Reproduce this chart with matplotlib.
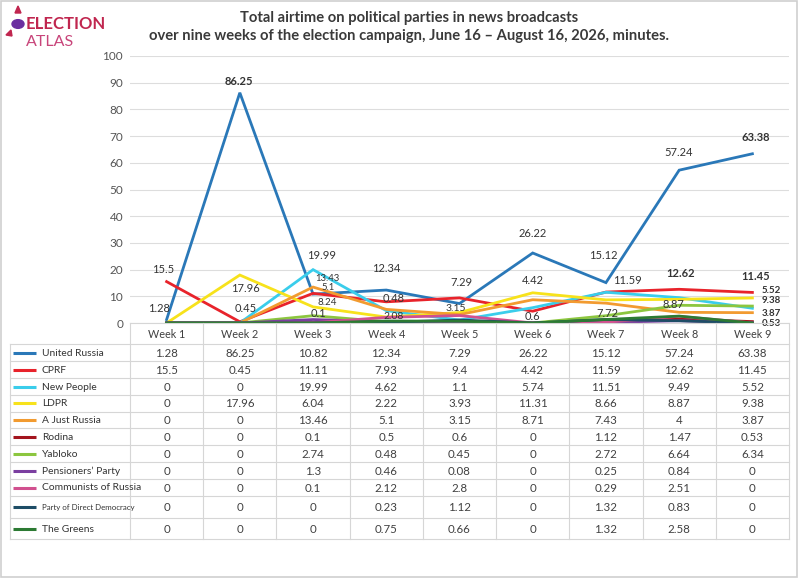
import matplotlib.pyplot as plt
from matplotlib.patches import Circle, Polygon, Rectangle

plt.rcParams["font.family"] = ["Lato", "DejaVu Sans"]

weeks = ["Week 1", "Week 2", "Week 3", "Week 4", "Week 5", "Week 6", "Week 7", "Week 8", "Week 9"]

parties = [
    "United Russia", "CPRF", "New People", "LDPR", "A Just Russia", "Rodina",
    "Yabloko", "Pensioners\u2019 Party", "Communists of Russia",
    "Party of Direct Democracy", "The Greens",
]

united_russia = [1.28, 86.25, 10.82, 12.34, 7.29, 26.22, 15.12, 57.24, 63.38]
cprf = [15.5, 0.45, 11.11, 7.93, 9.4, 4.42, 11.59, 12.62, 11.45]
new_people = [0, 0, 19.99, 4.62, 1.1, 5.74, 11.51, 9.49, 5.52]
ldpr = [0, 17.96, 6.04, 2.22, 3.93, 11.31, 8.66, 8.87, 9.38]
just_russia = [0, 0, 13.46, 5.1, 3.15, 8.71, 7.43, 4, 3.87]
rodina = [0, 0, 0.1, 0.5, 0.6, 0, 1.12, 1.47, 0.53]
yabloko = [0, 0, 2.74, 0.48, 0.45, 0, 2.72, 6.64, 6.34]
pensioners = [0, 0, 1.3, 0.46, 0.08, 0, 0.25, 0.84, 0]
communists = [0, 0, 0.1, 2.12, 2.8, 0, 0.29, 2.51, 0]
direct_democracy = [0, 0, 0, 0.23, 1.12, 0, 1.32, 0.83, 0]
greens = [0, 0, 0, 0.75, 0.66, 0, 1.32, 2.58, 0]

series = [united_russia, cprf, new_people, ldpr, just_russia, rodina,
          yabloko, pensioners, communists, direct_democracy, greens]

colors = ["#2A78B8", "#E8232B", "#3ACDEB", "#F7E21B", "#F29B30", "#A3141E",
          "#8CC63F", "#7B3FA0", "#D1508F", "#1E4D66", "#2C7A33"]

# labels as they appear on the original chart: (text, week index, y, bold, size)
point_labels = [
    ("1.28", -0.1, 5.6, False, 8), ("15.5", -0.05, 20.1, False, 8),
    ("86.25", 0.99, 90.5, True, 8), ("17.96", 1.08, 13.0, False, 8),
    ("0.45", 1.08, 5.6, False, 8), ("19.99", 2.12, 25.4, False, 8),
    ("13.43", 2.2, 16.8, False, 6.8), ("5.1", 2.2, 13.2, False, 6.8),
    ("8.24", 2.2, 7.5, False, 7), ("0.1", 2.08, 3.4, False, 8),
    ("12.34", 3.0, 20.5, False, 8), ("0.48", 3.1, 9.3, False, 8),
    ("2.08", 3.1, 2.6, False, 7.5), ("7.29", 4.03, 15.3, False, 8),
    ("3.15", 3.95, 5.6, False, 7.5), ("26.22", 5.0, 33.6, False, 8),
    ("4.42", 5.0, 16.0, False, 8), ("0.6", 5.0, 2.6, False, 8),
    ("15.12", 5.96, 25.4, False, 8), ("11.59", 6.3, 16.0, False, 8),
    ("7.72", 6.02, 3.7, False, 8), ("57.24", 6.99, 63.8, False, 8),
    ("12.62", 7.02, 18.7, True, 8), ("8.87", 6.92, 7.1, False, 8),
    ("63.38", 8.04, 69.4, True, 8), ("11.45", 8.04, 17.4, True, 8),
    ("5.52", 8.26, 12.0, True, 7), ("9.38", 8.26, 8.4, True, 7),
    ("3.87", 8.26, 3.7, True, 7), ("0.53", 8.26, 0.0, True, 7),
]

W, H = 800, 579
fig = plt.figure(figsize=(8, 5.79), dpi=100)
fig.patch.set_facecolor("white")


def fx(px):
    return px / W


def fy(py):
    return 1 - py / H


# frame around the picture
fig.patches.append(Rectangle((fx(1), fy(577)), fx(796), 576 / H, transform=fig.transFigure,
                             fill=False, edgecolor="#CFCFCF", linewidth=1.2))

# logo
fig.patches.append(Polygon([[fx(15), fy(13)], [fx(21), fy(13)], [fx(18), fy(6)]],
                           closed=True, transform=fig.transFigure, color="#C0264F"))
fig.patches.append(Polygon([[fx(6), fy(35)], [fx(11), fy(30)], [fx(12), fy(36)]],
                           closed=True, transform=fig.transFigure, color="#C0264F"))
fig.patches.append(Circle((fx(18), fy(24)), 0.0075, transform=fig.transFigure, color="#6B2FA0"))
fig.text(fx(26), fy(24), "ELECTION", fontsize=12, color="#C0264F", fontweight="bold",
         va="center", ha="left")
fig.text(fx(26), fy(42), "ATLAS", fontsize=11.5, color="#C8457A", va="center", ha="left")

fig.text(fx(409), fy(18), "Total airtime on political parties in news broadcasts",
         fontsize=10.6, color="#3A3A3A", ha="center", va="center", fontweight="bold")
fig.text(fx(409), fy(36), "over nine weeks of the election campaign, June 16 \u2013 August 16, 2026, minutes.",
         fontsize=10.6, color="#3A3A3A", ha="center", va="center", fontweight="bold")

# line chart
left, right = 130, 789
top, zero = 56, 323
ax = fig.add_axes([fx(left), fy(zero), (right - left) / W, (zero - top) / H])
x = list(range(len(weeks)))
for values, color in zip(series, colors):
    ax.plot(x, values, color=color, linewidth=2.0, solid_joinstyle="miter")

ax.set_xlim(-0.5, 8.5)
ax.set_ylim(0, 100)
ax.set_yticks(range(0, 101, 10))
ax.set_xticks([])
ax.grid(axis="y", color="#DDDDDD", linewidth=0.8)
ax.set_axisbelow(True)
for s in ax.spines.values():
    s.set_visible(False)
ax.tick_params(axis="y", length=0, labelsize=8.5, labelcolor="#555555", pad=5)

for text, xi, yi, bold, size in point_labels:
    ax.text(xi, yi, text, fontsize=size, color="#333333", ha="center", va="center",
            fontweight="bold" if bold else "normal", clip_on=False)

# data table under the chart
tab = fig.add_axes([0, 0, 1, 1])
tab.set_xlim(0, W)
tab.set_ylim(H, 0)
tab.axis("off")

col_w = (right - left) / len(weeks)
row_edges = [323, 344.3, 361.3, 378.3, 395, 411.7, 428.3, 445.3, 462.3, 479, 496, 518.3, 539.3]
grid_c = "#D6D6D6"

# header
for i, wk in enumerate(weeks):
    tab.text(left + col_w * (i + 0.5), (row_edges[0] + row_edges[1]) / 2 + 1, wk,
             fontsize=7.8, color="#404040", ha="center", va="center")

tab.plot([left, right], [row_edges[0], row_edges[0]], color=grid_c, lw=0.8)
for r in row_edges[1:]:
    tab.plot([10, right], [r, r], color=grid_c, lw=0.8)
for i in range(len(weeks) + 1):
    xl = left + col_w * i
    tab.plot([xl, xl], [row_edges[0], row_edges[-1]], color=grid_c, lw=0.8)
tab.plot([10, 10], [row_edges[1], row_edges[-1]], color=grid_c, lw=0.8)

for j, (name, values, color) in enumerate(zip(parties, series, colors)):
    yc = (row_edges[j + 1] + row_edges[j + 2]) / 2
    tab.plot([13, 36], [yc, yc], color=color, lw=2.2, solid_capstyle="butt")
    name_size = 5.7 if len(name) > 22 else 7.4
    tab.text(42, yc + 0.5, name, fontsize=name_size, color="#333333", ha="left", va="center")
    for i, v in enumerate(values):
        tab.text(left + col_w * (i + 0.5), yc + 0.5, f"{v:g}", fontsize=8.3,
                 color="#404040", ha="center", va="center")

fig.savefig("out.png", dpi=100)
